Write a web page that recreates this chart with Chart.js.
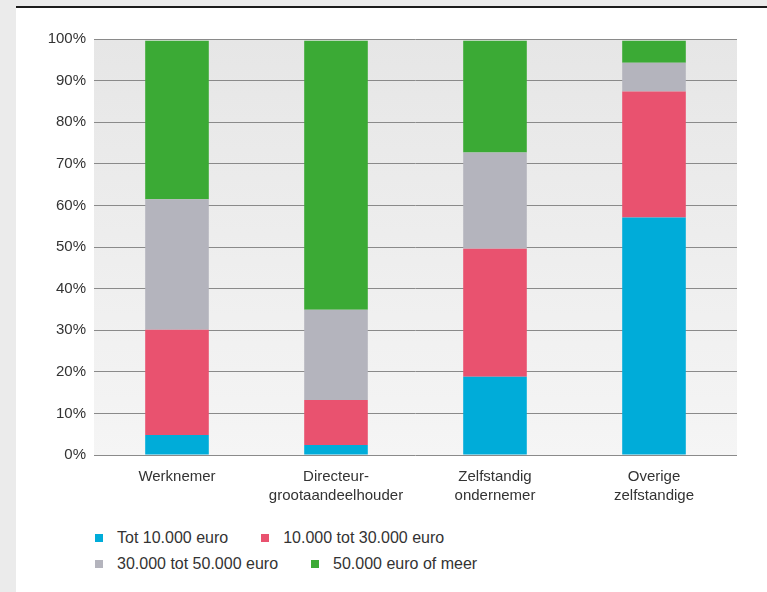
<!DOCTYPE html>
<html>
<head>
<meta charset="utf-8">
<script src="https://cdn.jsdelivr.net/npm/chart.js@4"></script>
<style>
  html, body { margin: 0; padding: 0; }
  body { width: 767px; height: 592px; background: #ebebeb; position: relative; overflow: hidden;
         font-family: 'Liberation Sans', Arial, sans-serif; color: #333; }
  #panel { position: absolute; left: 16px; top: 6px; right: 0; bottom: 0; background: #fff; border-top: 2px solid #1c1c1c; }
  #wrap { position: absolute; left: 0; top: 0; width: 751px; height: 507px; }
  #legend { position: absolute; left: 79px; top: 517px; font-size: 16px; }
  .row { display: flex; height: 26px; align-items: center; }
  .item { display: flex; align-items: center; margin-right: 33px; }
  .box { width: 8px; height: 8px; margin-right: 14px; }
</style>
</head>
<body>
<div id="panel">
  <div id="wrap"><canvas id="js-chart"></canvas></div>
  <div id="legend"></div>
</div>
<script>
// categorieën en waarden (procenten, gestapeld)
const categories = ['Werknemer', ['Directeur-', 'grootaandeelhouder'], ['Zelfstandig', 'ondernemer'], ['Overige', 'zelfstandige']];
const seriesLabels = ['Tot 10.000 euro', '10.000 tot 30.000 euro', '30.000 tot 50.000 euro', '50.000 euro of meer'];
const tot10 = [4.8, 2.4, 18.8, 57.1];
const tot30 = [25.3, 10.8, 30.8, 30.3];
const tot50 = [31.4, 21.7, 23.1, 6.9];
const meer50 = [38.1, 64.7, 26.9, 5.3];
const yTicks = [0, 10, 20, 30, 40, 50, 60, 70, 80, 90, 100];

const colors = ['#00acd9', '#e9526f', '#b4b4bd', '#3baa35'];
const values = [tot10, tot30, tot50, meer50];

// categorieën iets naar binnen, plotvlak loopt er aan beide kanten voorbij
const xRange = 4.044;

// achtergrond met verloop achter het plotgebied
const plotBg = {
  id: 'plotBg',
  beforeDraw(chart) {
    const { ctx, chartArea: a } = chart;
    const g = ctx.createLinearGradient(0, a.top, 0, a.bottom);
    g.addColorStop(0, '#e6e6e6');
    g.addColorStop(1, '#f5f5f5');
    ctx.save();
    ctx.fillStyle = g;
    ctx.fillRect(a.left, a.top, a.right - a.left, a.bottom - a.top);
    ctx.restore();
  },
};

const ctx = document.querySelector('#js-chart').getContext('2d');
const chart = new Chart(ctx, {
  type: 'bar',
  data: {
    labels: categories,
    datasets: values.map((v, i) => ({
      label: seriesLabels[i],
      data: v,
      backgroundColor: colors[i],
      borderWidth: 0,
      barPercentage: 0.4,
      categoryPercentage: 1,
    })),
  },
  options: {
    responsive: true,
    maintainAspectRatio: false,
    animation: false,
    layout: { padding: { top: 31, right: 30, left: 0, bottom: 0 } },
    plugins: { legend: { display: false }, tooltip: { enabled: false } },
    scales: {
      x: {
        stacked: true,
        grid: { display: false },
        border: { display: false },
        ticks: { color: '#333', font: { family: "'Liberation Sans', Arial", size: 15, lineHeight: 1.27 }, padding: 4, maxRotation: 0 },
        afterFit(s) { s.height = 60; },
        afterUpdate(s) {
          s._startValue = -0.5 - (xRange - 4) / 2;
          s._valueRange = xRange;
        },
      },
      y: {
        stacked: true,
        min: 0,
        max: 100,
        afterBuildTicks(s) { s.ticks = yTicks.map(v => ({ value: v })); },
        grid: { color: '#8a8a8a', lineWidth: 1, drawTicks: false },
        border: { display: false },
        ticks: { color: '#333', font: { family: "'Liberation Sans', Arial", size: 15 }, padding: 8, callback: v => v + '%' },
        afterFit(s) { s.width = 78; },
      },
    },
  },
  plugins: [plotBg],
});

// legenda in twee rijen
const legend = document.querySelector('#legend');
[[0, 1], [2, 3]].forEach(r => {
  const row = document.createElement('div');
  row.className = 'row';
  r.forEach(i => {
    const item = document.createElement('div');
    item.className = 'item';
    const box = document.createElement('span');
    box.className = 'box';
    box.style.background = colors[i];
    item.appendChild(box);
    item.appendChild(document.createTextNode(seriesLabels[i]));
    row.appendChild(item);
  });
  legend.appendChild(row);
});
</script>
</body>
</html>
